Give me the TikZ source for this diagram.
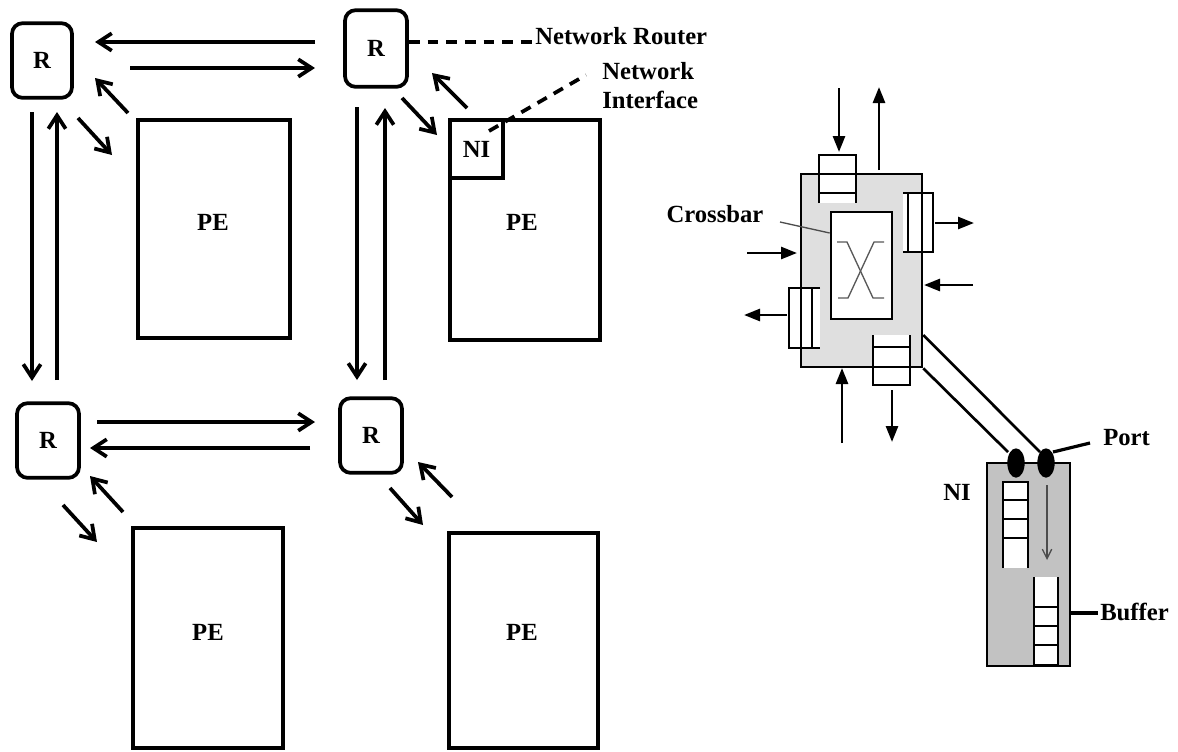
\documentclass[tikz,border=0pt]{standalone}
\usepackage{fontspec}
\setmainfont{Liberation Serif}
\usetikzlibrary{arrows.meta,calc}
\begin{document}
\begin{tikzpicture}[x=0.75pt,y=-0.75pt,
  lbl/.style={font=\fontsize{18.5}{20}\selectfont\bfseries, inner sep=0pt},
  router/.style={draw, line width=2.8pt, rounded corners=8pt, inner sep=0pt, font=\fontsize{18.5}{20}\selectfont\bfseries},
  pebox/.style={draw, line width=2.8pt, inner sep=0pt},
  bigarrow/.style={line width=2.8pt, -{Straight Barb[length=10pt,width=13pt]}},
  thinarrow/.style={line width=2pt, -{Triangle[length=12pt,width=9pt]}},
  rline/.style={line width=2pt},
  ladder/.style={line width=2pt},
  dashline/.style={line width=2.8pt, dash pattern=on 8pt off 6pt},
]
\useasboundingbox (0,0) rectangle (1178,751);

% ---------------- Left: mesh of routers and PEs ----------------
\node[router, minimum width=45pt, minimum height=56pt] (R1) at (42,60.5) {R};
\node[router, minimum width=46.5pt, minimum height=57.5pt] (R2) at (376,48.5) {R};
\node[router, minimum width=46.5pt, minimum height=56pt] (R3) at (48,440.5) {R};
\node[router, minimum width=46.5pt, minimum height=56pt] (R4) at (371,435.5) {R};

\node[pebox, minimum width=114pt, minimum height=163.5pt] (PE1) at (214,229) {};
\node[pebox, minimum width=112.5pt, minimum height=165pt] (PE2) at (525,230) {};
\node[pebox, minimum width=112.5pt, minimum height=165pt] (PE3) at (208,638) {};
\node[pebox, minimum width=111.75pt, minimum height=161.25pt] (PE4) at (523.5,640.5) {};
\node[lbl] (PE1l) at (213,222) {PE};
\node[lbl] (PE2l) at (522,222) {PE};
\node[lbl] (PE3l) at (208,632) {PE};
\node[lbl] (PE4l) at (522,632) {PE};

\node[pebox, minimum width=39.75pt, minimum height=43.5pt, anchor=north west,
      font=\fontsize{18.5}{20}\selectfont\bfseries] (NIa) at (PE2.north west) {NI};

% horizontal links
\draw[bigarrow] (315,42) -- (95,42);
\draw[bigarrow] (130,68) -- (315,68);
\draw[bigarrow] (97,422) -- (315,422);
\draw[bigarrow] (310,448) -- (90,448);
% vertical links
\draw[bigarrow] (32,112) -- (32,381);
\draw[bigarrow] (57,380) -- (57,112);
\draw[bigarrow] (357,107) -- (357,380);
\draw[bigarrow] (385,380) -- (385,108);
% router <-> PE
\draw[bigarrow] (128,113) -- (95,78);
\draw[bigarrow] (78,118) -- (112,155);
\draw[bigarrow] (467,108) -- (432,73);
\draw[bigarrow] (402,98) -- (437,135);
\draw[bigarrow] (123,512) -- (90,476);
\draw[bigarrow] (63,505) -- (97,542);
\draw[bigarrow] (452,497) -- (418,462);
\draw[bigarrow] (390,488) -- (423,525);

% annotations
\node[lbl, anchor=west] (NRt) at (535,36) {Network Router};
\draw[dashline] (R2.east |- 0,42) -- (533,42);
\node[lbl, anchor=west] (NIt1) at (602,71) {Network};
\node[lbl, anchor=west] (NIt2) at (602,100) {Interface};
\draw[dashline] (489,131) -- (586,75);

% ---------------- Right: router detail ----------------
\fill[gray!25] (801,174) rectangle (922,367);
% buffers (white)
\fill[white] (819,155) rectangle (856,203);
\fill[white] (903,193) rectangle (933,252);
\fill[white] (789,288) rectangle (820,348);
\fill[white] (873,335) rectangle (910,385);
% top buffer (open at bottom)
\draw[ladder] (819,203) -- (819,155) -- (856,155) -- (856,203);
\draw[ladder] (819,193) -- (856,193);
% right buffer (open at left)
\draw[ladder] (903,193) -- (933,193) -- (933,252) -- (903,252);
\draw[ladder] (908,193) -- (908,252);
% left buffer (open at right)
\draw[ladder] (820,288) -- (789,288) -- (789,348) -- (820,348);
\draw[ladder] (812,288) -- (812,348);
% bottom buffer (open at top)
\draw[ladder] (873,335) -- (873,385) -- (910,385) -- (910,335);
\draw[ladder] (873,347) -- (910,347);
% router outline
\node[draw, rline, minimum width=90.75pt, minimum height=144.75pt, inner sep=0pt] (RT) at (861.5,270.5) {};
% crossbar
\node[draw, fill=white, rline, minimum width=45.75pt, minimum height=80.25pt, inner sep=0pt] (XB) at (861.5,265.5) {};
\draw[gray!70!black, line width=1pt] (837,242) -- (847,242) -- (873,298) -- (884,298);
\draw[gray!70!black, line width=1pt] (884,242) -- (874,242) -- (848,298) -- (838,298);
\node[lbl, anchor=center] (XBl) at (715,214) {Crossbar};
\draw[gray!60!black, line width=1pt] (780,222) -- (XB.west |- 0,233);

% router arrows
\draw[thinarrow] (839,88) -- (839,152);
\draw[thinarrow] (879,170) -- (879,87);
\draw[thinarrow] (935,223) -- (974,223);
\draw[thinarrow] (973,285) -- (924,285);
\draw[thinarrow] (747,253) -- (797,253);
\draw[thinarrow] (787,315) -- (744,315);
\draw[thinarrow] (842,443) -- (842,368);
\draw[thinarrow] (892,390) -- (892,442);

% ---------------- NI detail ----------------
\node[draw, fill=gray!48, rline, minimum width=62.25pt, minimum height=152.25pt, inner sep=0pt] (NIb) at (1028.5,564.5) {};
% links
\draw[rline] (RT.east |- 0,335) -- (1040,452);
\draw[rline] (RT.south east) -- (1008,452);
% ports
\fill (1016,463) ellipse [x radius=6.5pt, y radius=11pt];
\fill (1046,463) ellipse [x radius=6.5pt, y radius=11pt];
\coordinate (P2) at (1053,452);
% left ladder (open at bottom)
\fill[white] (1003,482) rectangle (1028,568);
\draw[ladder] (1003,568) -- (1003,482) -- (1028,482) -- (1028,568);
\foreach \yy in {500,519,538} \draw[ladder] (1003,\yy) -- (1028,\yy);
% right ladder (open at top)
\fill[white] (1034,577) rectangle (1058,665);
\draw[ladder] (1034,577) -- (1034,665) -- (1058,665) -- (1058,577);
\foreach \yy in {607,626,645} \draw[ladder] (1034,\yy) -- (1058,\yy);
% internal arrow
\draw[gray!60!black, line width=1pt, -{Straight Barb[length=7pt,width=7pt]}] (1047,485) -- (1047,560);

\node[lbl, anchor=west] (Portl) at (1103,438) {Port};
\draw[line width=2.4pt] (P2) -- (1090,443);
\node[lbl] (NIl) at (957,492) {NI};
\node[lbl, anchor=west] (Bufl) at (1100,612) {Buffer};
\draw[line width=2.4pt] (NIb.east |- 0,613) -- (1098,613);
\end{tikzpicture}
\end{document}
